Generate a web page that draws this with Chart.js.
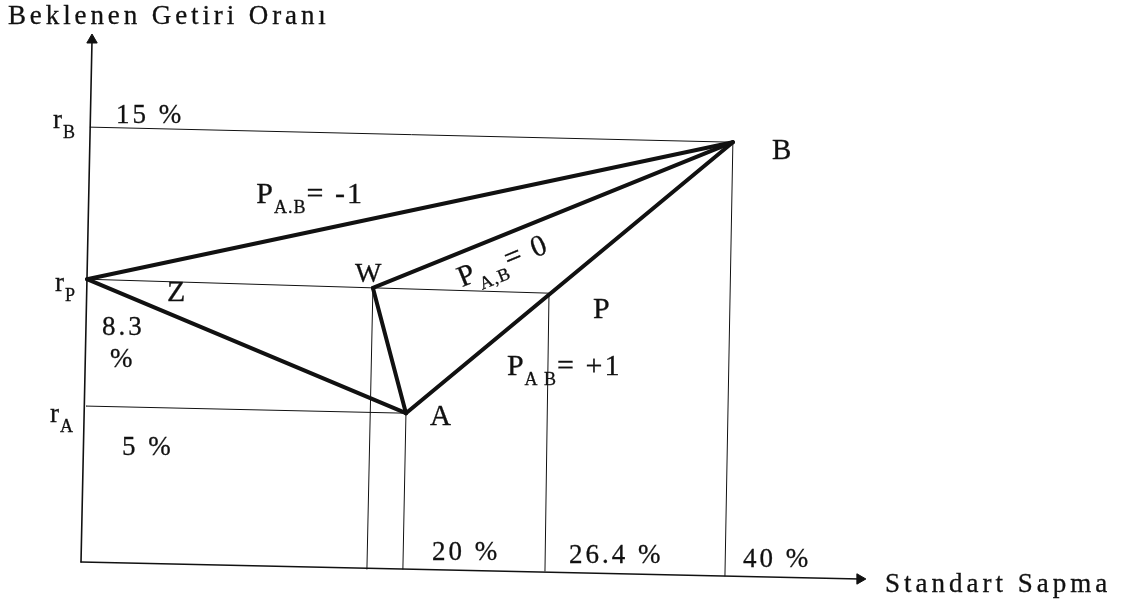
<!DOCTYPE html>
<html>
<head>
<meta charset="utf-8">
<script src="https://cdn.jsdelivr.net/npm/chart.js@4"></script>
<style>
  body { margin: 0; background: #fff; }
</style>
</head>
<body>
<canvas id="chart" width="1122" height="605"></canvas>
<script>
// diagram points (x = std. deviation units, y = expected return units)
const ptRP = [0.25, 9.74];
const ptW = [17.90, 9.42];
const ptP = [28.77, 9.23];
const ptA = [19.94, 4.85];
const ptB = [40.12, 14.74];

// where the thin guide lines start / end
const rBStart = [0.43, 15.29];
const rAStart = [0.19, 5.11];
const wFoot = [17.53, -0.84];
const aFoot = [19.75, -0.84];
const pFoot = [28.52, -0.91];
const bFoot = [39.63, -1.09];

// axes
const yAxisPts = [[-0.12, -0.58], [0.56, 18.47]];
const xAxisPts = [[-0.12, -0.58], [47.96, -1.20]];

// the three frontiers
const thickSegments = [
    [ptRP, ptB],   // P A.B = -1
    [ptRP, ptA],
    [ptW, ptB],    // P A,B = 0
    [ptW, ptA],
    [ptA, ptB]     // P A.B = +1
];
const thinSegments = [
    [rBStart, ptB],
    [ptRP, ptP],
    [rAStart, ptA],
    [ptW, wFoot],
    [ptA, aFoot],
    [ptP, pFoot],
    [ptB, bFoot]
];

// text on the diagram
const labels = [
    { text: 'Beklenen Getiri Oranı', x: -4.63, y: 19.05, gap: 3.9 },
    { text: 'r', sub: 'B', x: -1.85, y: 15.26 },
    { text: '15 %', x: 2.04, y: 15.44 },
    { text: 'P', sub: 'A.B', after: '= -1', x: 10.7, y: 12.52, size: 30 },
    { text: 'r', sub: 'P', x: -1.73, y: 9.31 },
    { text: 'Z', x: 5.19, y: 8.94, size: 30 },
    { text: '8.3', x: 1.17, y: 7.70 },
    { text: '%', x: 1.67, y: 6.53 },
    { text: 'W', x: 16.79, y: 9.64, size: 28 },
    { text: 'P', sub: 'A,B', after: '= 0', x: 23.40, y: 9.45, size: 30, rot: -22 },
    { text: 'P', x: 31.48, y: 8.32, size: 30 },
    { text: 'P', sub: 'A B', after: '= +1', x: 26.17, y: 6.24, size: 30 },
    { text: 'r', sub: 'A', x: -2.04, y: 4.53 },
    { text: 'A', x: 21.42, y: 4.42, size: 29 },
    { text: '5 %', x: 2.41, y: 3.32 },
    { text: 'B', x: 42.53, y: 14.12, size: 29 },
    { text: '20 %', x: 21.54, y: -0.51 },
    { text: '26.4 %', x: 30.0, y: -0.62 },
    { text: '40 %', x: 40.74, y: -0.77 },
    { text: 'Standart Sapma', x: 49.51, y: -1.68, gap: 4 }
];

const toXY = p => ({ x: p[0], y: p[1] });

function segDataset(seg, width) {
    return {
        data: seg.map(toXY),
        showLine: true,
        borderColor: '#111',
        borderWidth: width,
        pointRadius: 0,
        borderCapStyle: 'round',
        borderJoinStyle: 'round',
        clip: false
    };
}

const datasets = [];
datasets.push(segDataset(yAxisPts, 1.6));
datasets.push(segDataset(xAxisPts, 1.6));
thinSegments.forEach(s => datasets.push(segDataset(s, 1)));
thickSegments.forEach(s => datasets.push(segDataset(s, 4)));
// arrow heads
datasets.push({
    data: [toXY(yAxisPts[1])],
    pointStyle: 'triangle', pointRadius: 6, rotation: 0,
    backgroundColor: '#111', borderColor: '#111', clip: false
});
datasets.push({
    data: [toXY(xAxisPts[1])],
    pointStyle: 'triangle', pointRadius: 6, rotation: 90,
    backgroundColor: '#111', borderColor: '#111', clip: false
});

// draws a string with wide letter spacing like the scanned typesetting
function spaced(ctx, str, x, y, size, gap) {
    ctx.font = size + 'px "Liberation Serif", "DejaVu Serif", serif';
    for (const ch of str) {
        ctx.fillText(ch, x, y);
        ctx.strokeText(ch, x, y);
        x += ctx.measureText(ch).width + gap;
    }
    return x;
}

const textPlugin = {
    id: 'diagramText',
    afterDatasetsDraw(chart) {
        const { ctx, scales: { x, y } } = chart;
        ctx.save();
        ctx.fillStyle = '#111';
        ctx.strokeStyle = '#111';
        ctx.lineWidth = 0.3;
        ctx.textBaseline = 'alphabetic';
        ctx.textAlign = 'left';
        labels.forEach(l => {
            const size = l.size || 27;
            ctx.save();
            ctx.translate(x.getPixelForValue(l.x), y.getPixelForValue(l.y));
            if (l.rot) ctx.rotate(l.rot * Math.PI / 180);
            let cx = spaced(ctx, l.text, 0, 0, size, l.gap || 3);
            if (l.sub) cx = spaced(ctx, l.sub, cx - 2, 10, 18, 1);
            if (l.after) spaced(ctx, l.after, cx, 0, size, 2);
            ctx.restore();
        });
        ctx.restore();
    }
};

window.onload = () => {
    const ctx = document.getElementById('chart');

    new Chart(ctx, {
        type: 'scatter',
        data: { datasets: datasets },
        options: {
            responsive: false,
            animation: false,
            layout: { padding: 0, autoPadding: false },
            scales: {
                x: { type: 'linear', display: false, min: -5.12, max: 64.14 },
                y: { type: 'linear', display: false, min: -2.15, max: 19.93 }
            },
            plugins: {
                legend: { display: false },
                tooltip: { enabled: false }
            }
        },
        plugins: [textPlugin]
    });
}
</script>
</body>
</html>
